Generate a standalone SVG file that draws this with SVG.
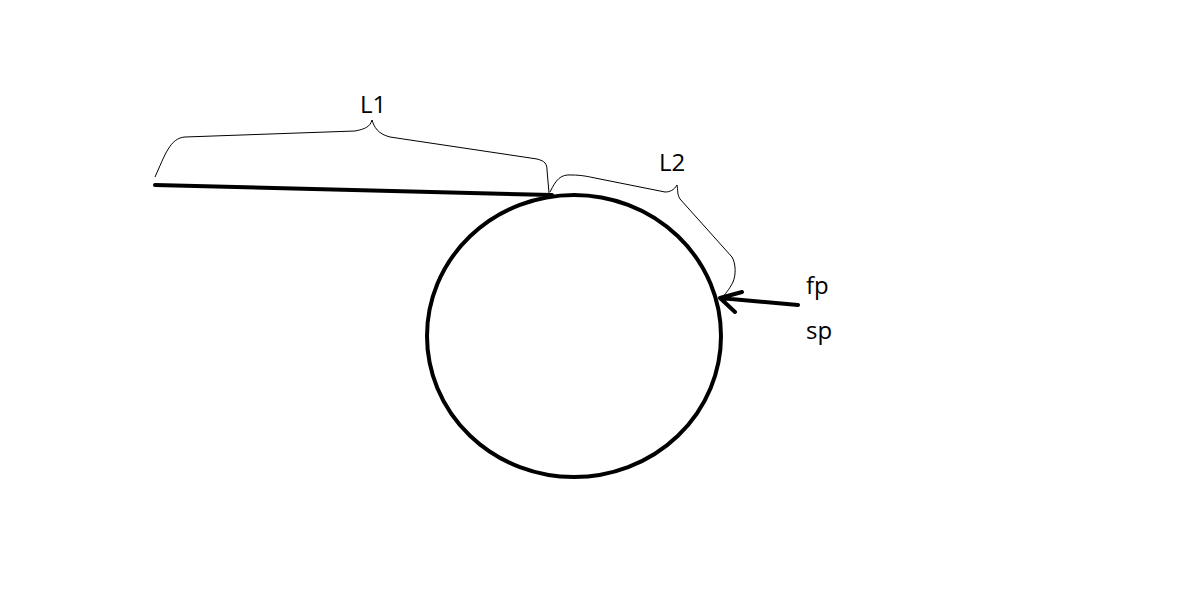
<svg xmlns="http://www.w3.org/2000/svg" width="1178" height="595" viewBox="0 0 1178 595">
<style>
.thick{fill:none;stroke:#000;stroke-width:4;stroke-linecap:round;stroke-linejoin:round}
.thin{fill:none;stroke:#000;stroke-width:1}
.lbl{font-family:"Open Sans","Noto Sans",sans-serif;font-size:24px;fill:#000}
</style>
<rect width="1178" height="595" fill="#fff"/>
<g id="circle">
<ellipse cx="574" cy="336" rx="147" ry="141" class="thick"/>
</g>
<g id="connectors">
<path id="line" class="thick" d="M155,185 L552,195"/>
<path id="arrow" class="thick" d="M798,305 L720,298 M742,292 L720,298 L735,312"/>
<path id="brace-L1" class="thin" d="M155,177 C165,155 170,138 185,137 L355,131 C365,129 370,127 372,120 C374,127 378,134 390,137 L537,159 C545,161 547,164 547,170 L549,193"/>
<path id="brace-L2" class="thin" d="M550,192 C556,180 560,174 572,175 C582,175 590,177 595,178 L665,192 C670,192 674,190 677,185 C678,190 677,194 680,199 L732,257 C736,264 736,275 733,282 C729,290 725,294 722,298"/>
</g>
<g id="labels">
<text class="lbl" x="360" y="113">L1</text>
<text class="lbl" x="659" y="171">L2</text>
<text class="lbl" x="806" y="294">fp</text>
<text class="lbl" x="806" y="339">sp</text>
</g>
</svg>
